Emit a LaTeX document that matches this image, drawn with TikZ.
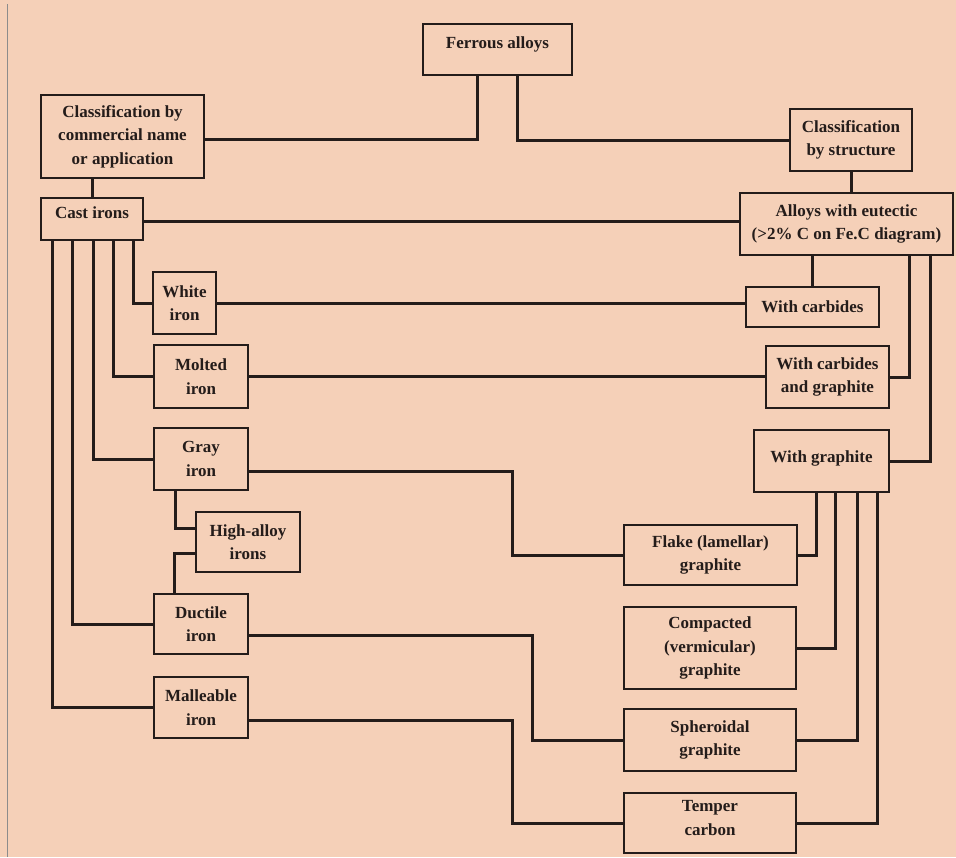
\documentclass[tikz,border=0pt]{standalone}
\usepackage{fontspec}
\setmainfont{Liberation Serif}
\definecolor{peach}{RGB}{245,208,184}
\definecolor{ink}{RGB}{36,28,26}

\begin{document}
\begin{tikzpicture}[
  x=1pt, y=-1pt,
  font=\bfseries\fontsize{17}{23.5}\selectfont,
  box/.style={rectangle, draw=ink, line width=2.7pt, fill=peach, align=center, text=ink, inner sep=1pt},
  wh/.style 2 args={minimum width=#1pt, minimum height=#2pt},
  wire/.style={draw=ink, line width=3pt},
  rule/.style={draw=black!45, line width=1pt}
]
  \fill[peach] (0,0) rectangle (956,857);
  \useasboundingbox (0,0) rectangle (956,857);
  \draw[rule] (7,4) -- (7,857);

  % top level
  \node[box, wh={149}{51}] (ferrous) at (497.5,49.5) {\raisebox{5pt}[\height][\depth]{Ferrous alloys}};
  \node[box, wh={163}{83}] (commercial) at (122.5,136.5) {Classification by\\commercial name\\or application};
  \node[box, wh={122}{62}] (structure) at (851,140) {Classification\\by structure};

  % left column
  \node[box, wh={102}{42}] (cast) at (92,219) {\raisebox{6pt}[\height][\depth]{Cast irons}};
  \node[box, wh={63}{62}] (white) at (184.5,303) {White\\iron};
  \node[box, wh={94}{63}] (molted) at (201,376.5) {Molted\\iron};
  \node[box, wh={94}{62}] (gray) at (201,459) {Gray\\iron};
  \node[box, wh={104}{60}] (highalloy) at (248,542) {High-alloy\\irons};
  \node[box, wh={94}{60}] (ductile) at (201,624) {Ductile\\iron};
  \node[box, wh={94}{61}] (malleable) at (201,707.5) {Malleable\\iron};

  % right column
  \node[box, wh={213}{62}] (eutectic) at (846.5,224) {Alloys with eutectic\\(>2\% C on Fe.C diagram)};
  \node[box, wh={133}{40}] (carbides) at (812.5,307) {With carbides};
  \node[box, wh={123}{62}] (carbgraph) at (827.5,377) {With carbides\\and graphite};
  \node[box, wh={135}{62}] (withgraph) at (821.5,461) {\raisebox{3pt}[\height][\depth]{With graphite}};
  \node[box, wh={173}{60}] (flake) at (710.5,555) {Flake (lamellar)\\graphite};
  \node[box, wh={172}{82}] (compacted) at (710,648) {Compacted\\(vermicular)\\graphite};
  \node[box, wh={172}{62}] (spheroidal) at (710,740) {Spheroidal\\graphite};
  \node[box, wh={172}{60}] (temper) at (710,823) {\raisebox{5pt}[\height][\depth]{Temper}\\\raisebox{5pt}[\height][\depth]{carbon}};

  \coordinate (colA) at (512,0);
  \coordinate (colB) at (532,0);

  % ferrous alloys
  \draw[wire] ([xshift=-20.5pt]ferrous.south) |- ([yshift=-2.5pt]commercial.east);
  \draw[wire] ([xshift=19.5pt]ferrous.south) |- (structure.west);
  \draw[wire] (cast.north) -- (cast.north |- commercial.south);
  \draw[wire] (structure.south) -- (structure.south |- eutectic.north);
  \draw[wire] ([yshift=-2pt]cast.east) -- ([yshift=-2pt]cast.east -| eutectic.west);

  % cast irons
  \draw[wire] ([xshift=41pt]cast.south) |- (white.west);
  \draw[wire] ([xshift=21pt]cast.south) |- (molted.west);
  \draw[wire] ([xshift=1pt]cast.south) |- (gray.west);
  \draw[wire] ([xshift=-20pt]cast.south) |- (ductile.west);
  \draw[wire] ([xshift=-40pt]cast.south) |- (malleable.west);
  \draw[wire] ([xshift=-26pt]gray.south) |- ([yshift=14pt]highalloy.west);
  \draw[wire] ([yshift=-11pt]highalloy.west) -| ([xshift=-27pt]ductile.north);

  % cross links
  \draw[wire] (white.east) -- (white.east -| carbides.west);
  \draw[wire] (molted.east) -- (molted.east -| carbgraph.west);
  \draw[wire] ([yshift=-12pt]gray.east) -| (colA |- flake.west) -- (flake.west);
  \draw[wire] ([yshift=-11pt]ductile.east) -| (colB |- spheroidal.west) -- (spheroidal.west);
  \draw[wire] ([yshift=-13pt]malleable.east) -| (colA |- temper.west) -- (temper.west);

  % structure side
  \draw[wire] (carbides.north) -- (carbides.north |- eutectic.south);
  \draw[wire] ([xshift=62.5pt]eutectic.south) |- (carbgraph.east);
  \draw[wire] ([xshift=83.5pt]eutectic.south) |- (withgraph.east);
  \draw[wire] ([xshift=-5.5pt]withgraph.south) |- (flake.east);
  \draw[wire] ([xshift=13.5pt]withgraph.south) |- (compacted.east);
  \draw[wire] ([xshift=35.5pt]withgraph.south) |- (spheroidal.east);
  \draw[wire] ([xshift=55.5pt]withgraph.south) |- (temper.east);
\end{tikzpicture}
\end{document}
